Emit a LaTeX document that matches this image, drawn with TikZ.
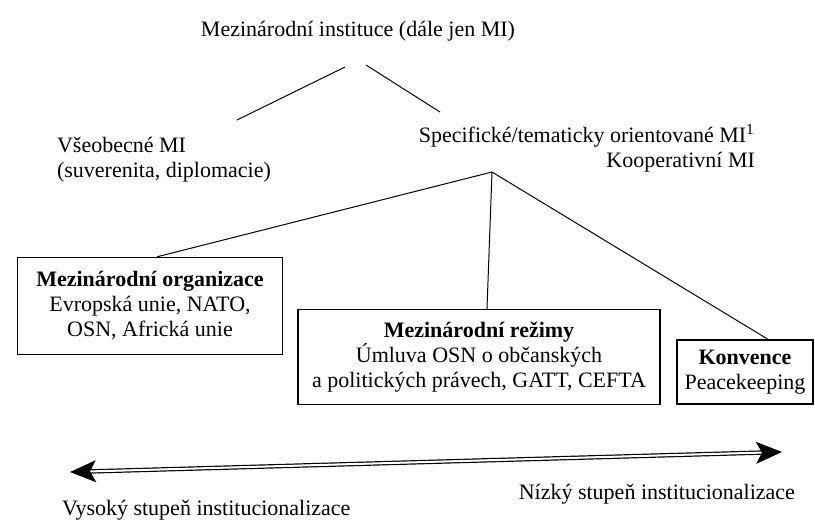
\documentclass[tikz,border=0pt]{standalone}
\usepackage{fontspec}
\setmainfont{Liberation Serif}
\usetikzlibrary{arrows.meta}

\tikzset{
  instbox/.style={draw,line width=0.7pt,align=center,inner sep=2pt},
  branch/.style={line width=0.5pt},
  levelline/.style={double,line width=0.6pt,double distance=1pt,shorten <=10pt,shorten >=10pt},
  levelhead/.style={white,line width=0.6pt,
    {Stealth[black,length=13pt,width=11pt,inset=3pt]}-{Stealth[black,length=13pt,width=11pt,inset=3pt]}}
}

\begin{document}
\begin{tikzpicture}[x=0.5pt,y=-0.5pt,font=\fontsize{11}{12.5}\selectfont]
	\useasboundingbox (0,0) rectangle (815,526);

	%top
	\node (mi) at (358,31) {Mezinárodní instituce (dále jen MI)};
	\coordinate (topL) at (345,67);
	\coordinate (topR) at (366,65);
	\coordinate (endL) at (237,120);
	\coordinate (endR) at (440,112);
	\draw[branch] (topL) -- (endL); %left branch
	\draw[branch] (topR) -- (endR); %right branch

	%second level
	\node[anchor=west,align=left] (general) at (50,160) {Všeobecné MI\\(suverenita, diplomacie)};
	\node[anchor=east,align=right] (specific) at (762,148) {Specifické/tematicky orientované MI\textsuperscript{1}\\Kooperativní MI};

	%boxes
	\coordinate (split) at (492,172);
	\node[instbox,minimum width=132.5pt,minimum height=48.5pt] (org) at (150,306)
	  {\textbf{Mezinárodní organizace}\\Evropská unie, NATO,\\OSN, Africká unie};
	\node[instbox,minimum width=181pt,minimum height=47.5pt] (regime) at (479,357)
	  {\textbf{Mezinárodní režimy}\\Úmluva OSN o občanských\\a politických právech, GATT, CEFTA};
	\node[instbox,minimum width=68pt,minimum height=32pt] (conv) at (745,372)
	  {\textbf{Konvence}\\Peacekeeping};
	\draw[branch] (split) -- ([xshift=3.5pt]org.north);
	\draw[branch] (split) -- ([xshift=4pt]regime.north);
	\draw[branch] (split) -- ([xshift=11.5pt]conv.north);

	%scale of institutionalization
	\coordinate (high) at (70,472);
	\coordinate (low) at (782,452);
	\draw[levelline] (high) -- (low);
	\draw[levelhead] (high) -- (low); %tips
	\node[anchor=west] (highlab) at (55,510) {Vysoký stupeň institucionalizace};
	\node[anchor=east] (lowlab) at (802,494) {Nízký stupeň institucionalizace};
\end{tikzpicture}
\end{document}
